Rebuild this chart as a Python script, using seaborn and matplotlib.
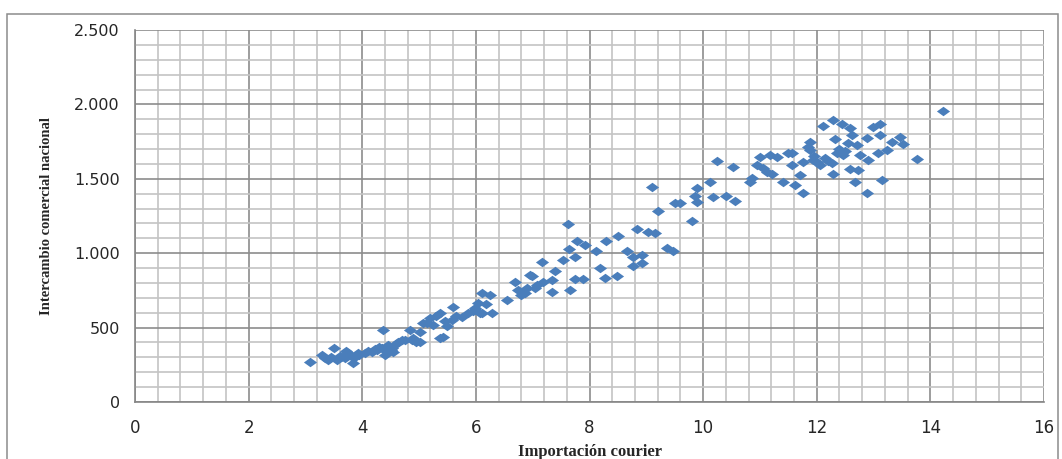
import matplotlib
matplotlib.use("Agg")
import numpy as np
import pandas as pd
import seaborn as sns
from matplotlib import pyplot as plt
from matplotlib.ticker import MultipleLocator, FuncFormatter
from matplotlib.patches import Rectangle

# values
courier = [3.08, 3.29, 3.40, 3.50, 3.55, 3.62, 3.70, 3.75, 3.80, 3.84, 3.88, 3.92, 3.95, 3.72,
           3.60, 3.45, 3.35, 4.05, 4.10, 4.17, 4.22, 4.26, 4.30, 4.35, 4.37, 4.40, 4.42, 4.46,
           4.50, 4.52, 4.55, 4.60, 4.63, 4.70, 4.75, 4.84, 4.90, 4.95, 5.02, 5.07, 5.02, 4.88,
           5.14, 5.20, 5.25, 5.30, 5.37, 5.37, 5.42, 5.45, 5.50, 5.58, 5.60, 5.65, 5.76, 5.86,
           5.95, 5.99, 6.04, 6.08, 6.11, 6.10, 6.18, 6.25, 6.29, 6.55, 6.69, 6.74, 6.80, 6.87,
           6.90, 6.95, 7.04, 7.08, 6.99, 7.16, 7.18, 7.34, 7.34, 7.39, 7.54, 7.62, 7.64, 7.66,
           7.75, 7.75, 7.78, 7.89, 7.92, 8.12, 8.19, 8.27, 8.29, 8.49, 8.50, 8.66, 8.77, 8.77,
           8.84, 8.93, 8.93, 9.03, 9.15, 9.10, 9.21, 9.37, 9.47, 9.51, 9.60, 9.80, 9.86, 9.89,
           9.89, 10.12, 10.18, 10.25, 10.40, 10.53, 10.56, 10.83, 10.86, 10.95, 11.00, 11.06,
           11.12, 11.18, 11.21, 11.30, 11.41, 11.50, 11.57, 11.57, 11.62, 11.71, 11.76, 11.76,
           11.85, 11.88, 11.88, 11.94, 12.06, 12.11, 12.27, 12.29, 12.29, 12.32, 12.36, 12.45,
           12.46, 12.55, 12.59, 12.59, 12.62, 12.68, 12.70, 12.73, 12.76, 12.89, 12.90, 12.89,
           12.99, 13.08, 13.12, 13.12, 13.15, 13.24, 13.33, 13.47, 13.52, 13.77, 14.23,
           12.00, 12.15, 12.40, 12.50, 11.95, 12.20]
intercambio = [270, 316, 285, 365, 285, 300, 296, 329, 310, 262, 300, 330, 315, 340,
               310, 300, 295, 329, 345, 336, 355, 350, 370, 363, 484, 316, 340, 380,
               350, 363, 335, 390, 403, 420, 417, 484, 430, 400, 403, 531, 470, 420,
               531, 564, 520, 580, 598, 430, 440, 545, 510, 551, 638, 580, 571, 598,
               610, 632, 665, 600, 732, 598, 660, 719, 598, 685, 807, 752, 720, 732,
               766, 853, 766, 786, 847, 941, 806, 820, 739, 880, 954, 1196, 1028, 753,
               974, 827, 1082, 827, 1055, 1015, 900, 833, 1082, 847, 1116, 1015, 974, 914,
               1163, 988, 934, 1143, 1136, 1445, 1284, 1035, 1015, 1337, 1337, 1216, 1384, 1438,
               1344, 1479, 1378, 1620, 1384, 1579, 1351, 1479, 1505, 1593, 1647, 1573,
               1546, 1660, 1532, 1647, 1479, 1673, 1593, 1673, 1458, 1526, 1613, 1405,
               1714, 1747, 1693, 1626, 1593, 1855, 1606, 1895, 1532, 1767, 1673, 1868,
               1660, 1740, 1841, 1566, 1794, 1479, 1727, 1559, 1660, 1774, 1626, 1405,
               1848, 1673, 1868, 1794, 1492, 1693, 1747, 1781, 1734, 1633, 1956,
               1610, 1640, 1700, 1690, 1650, 1620]

df = pd.DataFrame({"courier": courier, "intercambio": intercambio})

sns.set_style("white")
plt.rcParams["font.family"] = ["DejaVu Sans"]

fig = plt.figure(figsize=(10.62, 4.59), dpi=100)
ax = fig.add_axes([135 / 1062, 1 - 402 / 459, (1044 - 135) / 1062, (402 - 30) / 459])

# flat diamond like the excel marker
diamond = [(-1, 0), (0, 0.72), (1, 0), (0, -0.72)]
sns.scatterplot(data=df, x="courier", y="intercambio", ax=ax, marker=diamond,
                s=90, color="#4a7ebb", linewidth=0, zorder=3)

ax.set_xlim(0, 16)
ax.set_ylim(0, 2500)
ax.xaxis.set_major_locator(MultipleLocator(2))
ax.xaxis.set_minor_locator(MultipleLocator(0.4))
ax.yaxis.set_major_locator(MultipleLocator(500))
ax.yaxis.set_minor_locator(MultipleLocator(100))
ax.yaxis.set_major_formatter(FuncFormatter(lambda v, p: f"{v:,.0f}".replace(",", ".")))

ax.grid(which="major", color="#8c8c8c", linewidth=1.2)
ax.grid(which="minor", color="#c4c4c4", linewidth=1.2)
ax.set_axisbelow(True)

for side in ["top", "right"]:
    ax.spines[side].set_visible(False)
for side in ["left", "bottom"]:
    ax.spines[side].set_color("#868686")
    ax.spines[side].set_linewidth(1.2)

ax.tick_params(which="major", direction="out", length=6, width=1, color="#868686",
               labelsize=11.5, pad=5)
ax.tick_params(which="minor", length=0)
ax.tick_params(axis="x", labelsize=12, pad=6)

ax.set_xlabel("Importación courier", family="Liberation Serif", fontweight="bold",
              fontsize=12, labelpad=5)
ax.set_ylabel("Intercambio comercial nacional", family="Liberation Serif", fontweight="bold",
              fontsize=10.5, labelpad=15)

# outer chart frame
fig.patches.append(Rectangle((7 / 1062, -0.05), (1058 - 7) / 1062, 1.05 - 14 / 459,
                             transform=fig.transFigure, fill=False,
                             edgecolor="#8c8c8c", linewidth=1.1))

fig.savefig("out.png", dpi=100)
